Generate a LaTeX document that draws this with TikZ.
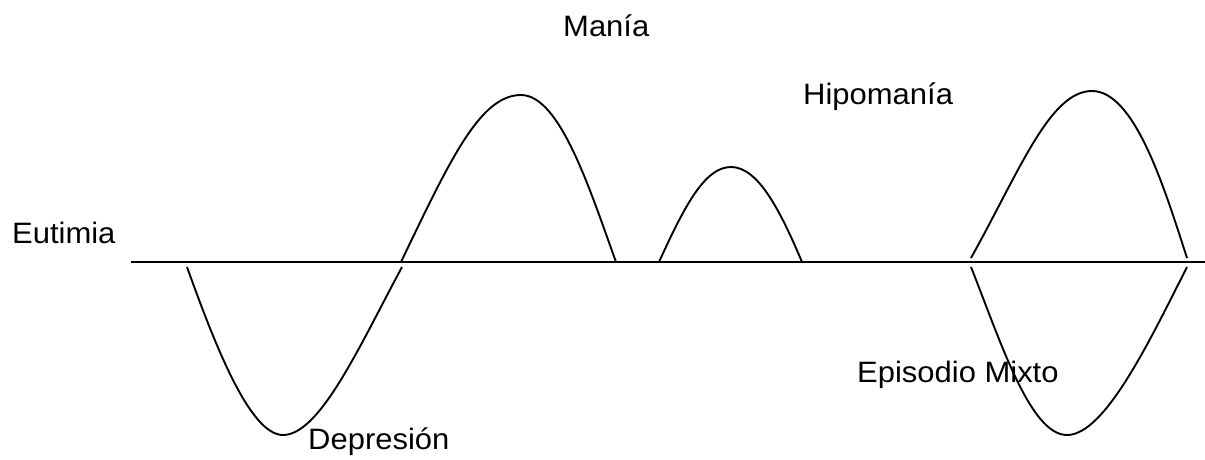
\documentclass[tikz,border=0pt]{standalone}
\usepackage{fontspec}
\setmainfont{Liberation Sans}[FakeStretch=1.05]
\tikzset{
  etiqueta/.style={anchor=base west, inner sep=0pt, font=\fontsize{29.5}{34}\selectfont},
  curva/.style={line width=1.9pt}
}
\begin{document}
\begin{tikzpicture}[x=1pt,y=-1pt]
\useasboundingbox (0,0) rectangle (1205,459);

\node[etiqueta] (mania) at (563,36) {Manía};
\node[etiqueta] (hipomania) at (803,104) {Hipomanía};
\node[etiqueta] (eutimia) at (12,243) {Eutimia};
\node[etiqueta] (mixto) at (857,382) {Episodio Mixto};
\node[etiqueta] (depresion) at (308,449) {Depresión};

\draw[line width=2.2pt] (131,262) -- (1205,262);

\draw[curva] (187,267) .. controls (215,345) and (250,435) .. (283,435)
  .. controls (320,435) and (360,345) .. (402,267);
\draw[curva] (401,262) .. controls (450,160) and (480,95) .. (521,95)
  .. controls (560,95) and (590,190) .. (616,262);
\draw[curva] (659,262) .. controls (685,205) and (705,167) .. (731,167)
  .. controls (758,167) and (780,210) .. (802,262);
\draw[curva] (971,258) .. controls (1020,170) and (1050,91) .. (1092,91)
  .. controls (1135,91) and (1165,190) .. (1187,258);
\draw[curva] (971,267) .. controls (1000,340) and (1030,435) .. (1067,435)
  .. controls (1105,435) and (1150,340) .. (1187,267);
\end{tikzpicture}
\end{document}
